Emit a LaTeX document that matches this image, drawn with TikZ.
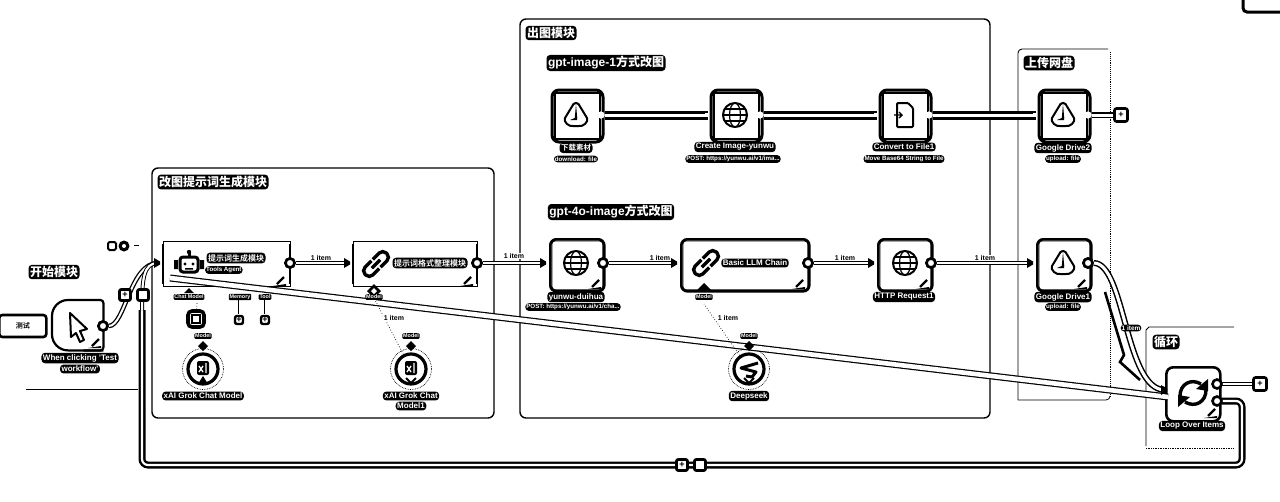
\documentclass[tikz,border=0pt]{standalone}
\usepackage{fontspec}
\setmainfont{Liberation Sans}[BoldFont={Liberation Sans Bold}]
\newfontfamily\cjk{Noto Sans CJK SC Bold}
\usetikzlibrary{arrows.meta,calc}
\tikzset{
 grp/.style={draw=black,line width=1.4pt,rounded corners=6pt,fill=white},
 tag/.style={fill=black,text=white,rounded corners=3.5pt,inner sep=1.5pt,font=\bfseries\fontsize{#1}{#1}\selectfont,align=center},
 tag/.default=8,
 sub/.style={tag=6.2,inner sep=1pt},
 note/.style={fill=white,text=black,font=\bfseries\fontsize{7}{7}\selectfont,inner sep=.6pt},
 portlab/.style={tag=5.4,inner sep=.8pt,rounded corners=1pt},
 nbox/.style={draw=black,line width=2.6pt,rounded corners=6pt,fill=white,inner sep=0pt,anchor=north west,minimum width=54pt,minimum height=52pt},
 thinbox/.style={draw=black,line width=1pt,fill=white,inner sep=0pt,anchor=north west,minimum height=45pt},
 heavy/.style={draw=black,line width=3pt,rounded corners=7pt,fill=white,inner sep=0pt,anchor=north west,minimum width=51pt,minimum height=52pt},
 outport/.style={circle,draw=black,fill=white,line width=2.6pt,minimum size=9pt,inner sep=0pt},
 plusb/.style={draw=black,fill=white,line width=2.6pt,rounded corners=2pt,minimum size=11pt,inner sep=0pt,font=\bfseries\fontsize{9}{9}\selectfont},
 circ/.style={circle,draw=black,line width=3.2pt,fill=white,minimum size=30pt,inner sep=0pt},
 wire/.style={line width=4.6pt,draw=black,postaction={draw=white,line width=2pt}},
 bigwire/.style={line width=9pt,draw=black,postaction={draw=white,line width=3pt}},
 dotw/.style={draw=black,line width=.7pt,dotted},
 ic/.style={draw=black,line width=2pt,fill=none},
}
\newcommand{\globe}[2]{\begin{scope}[shift={(#1,#2)}]
 \draw[ic] (0,0) circle (12);\draw[ic,line width=1.2pt] (0,0) ellipse (5.5 and 12);
 \draw[ic,line width=1.2pt] (-12,0)--(12,0) (-10,-6)--(10,-6) (-10,6)--(10,6);\end{scope}}
\newcommand{\drive}[2]{\begin{scope}[shift={(#1,#2)}]
 \draw[ic,line join=round] (-2.5,-11) .. controls (-1,-12.5) and (1,-12.5) .. (2.5,-11) -- (11,3) .. controls (12,5) and (11,7) .. (9,9) .. controls (7,11) and (5,11) .. (3,11) -- (-3,11) .. controls (-5,11) and (-7,11) .. (-9,9) .. controls (-11,7) and (-12,5) .. (-11,3) -- cycle;
 \fill (0,-11)--(1.2,3)--(-1.2,3)--cycle;
 \fill (-6,5)--(1.2,2)--(1.2,5)--cycle;\end{scope}}
\newcommand{\chain}[2]{\begin{scope}[shift={(#1,#2)},rotate=45]
 \draw[ic,line width=3.4pt,rounded corners=5pt] (-1,-5.5) -- (-15,-5.5) -- (-15,5.5) -- (-1,5.5);
 \draw[ic,line width=3.4pt,rounded corners=5pt] (1,-5.5) -- (15,-5.5) -- (15,5.5) -- (1,5.5);
 \draw[ic,line width=3.4pt] (-6,0)--(6,0);\end{scope}}
\newcommand{\pencil}[2]{\draw[black,line width=2.2pt] (#1-4,#2+4)--(#1+3,#2-3);\fill[black] (#1-8,#2+6) -- (#1+5,#2+6) -- (#1+5,#2+4) -- cycle;}
\newcommand{\xai}[2]{\begin{scope}[shift={(#1,#2)}]
 \fill[black,rounded corners=2pt] (-6,-7) rectangle (6,7);
 \draw[white,line width=1.3pt] (-4,-2)--(0,4) (-4,4)--(0,-2) (3,-5)--(3,5);\end{scope}}
\begin{document}
\begin{tikzpicture}[x=1pt,y=-1pt]
\useasboundingbox (0,0) rectangle (1280,501);
% groups
\draw[grp] (152,168) rectangle (494,418);
\draw[grp] (520,19) rectangle (990,418);
\draw[black,line width=.9pt,rounded corners=4pt] (1018,400) -- (1018,49) -- (1108,49);
\draw[black,line width=.9pt,densely dotted] (1110,52) -- (1110,396);
\draw[black,line width=.8pt,rounded corners=4pt] (1110,396) -- (1110,400) -- (1018,400);
\draw[black,line width=.8pt] (1234,327) -- (1149,327) -- (1146,330) -- (1146,446);
\draw[black,line width=.7pt,densely dotted] (1146,448) -- (1234,448);
\draw[black,line width=.8pt] (26,389) -- (138,389);
\draw[black,line width=3pt,rounded corners=4pt] (1243,-2) -- (1243,12) -- (1282,12);
% group titles
\node[tag=12] (t1) at (213,182) {\cjk 改图提示词生成模块};
\node[tag=12] (t2) at (551,33) {\cjk 出图模块};
\node[tag=12] (t3) at (606,63) {gpt-image-1{\cjk 方式改图}};
\node[tag=12] (t4) at (611,212) {gpt-4o-image{\cjk 方式改图}};
\node[tag=12] (t5) at (1049,63) {\cjk 上传网盘};
\node[tag=12] (t6) at (1166,342) {\cjk 循环};
\node[tag=12] (t7) at (54,272) {\cjk 开始模块};
% nodes
\node[draw=black,line width=2.6pt,rounded corners=3pt,fill=white,minimum width=47pt,minimum height=22pt,anchor=west,font=\fontsize{7}{7}\selectfont] (sticky) at (-2,326) {\cjk 测试};
\node[minimum width=51pt,minimum height=50pt,inner sep=0pt,anchor=north west] (trig) at (52,300) {};
\draw[black,line width=2.2pt,fill=white,rounded corners=16pt] (trig.south east) -- (trig.south west) -- (trig.north west) -- ([xshift=20pt]trig.north west);
\draw[black,line width=2.2pt,rounded corners=3pt] ([xshift=20pt]trig.north west) -- (trig.north east) -- (trig.south east) -- ([xshift=-20pt]trig.south east);
\draw[ic,line join=round] (70,313)--(87,329)--(80,331)--(84,340)--(80,342)--(76,333)--(71,337)--cycle;
\node[thinbox,minimum width=127pt] (agent) at (163,241) {};
\node[thinbox,minimum width=124pt] (chainA) at (353,241) {};
\draw[black,line width=2pt] (163,244)--(163,284) (290,244)--(290,284) (353,244)--(353,284) (477,244)--(477,284);
\node[nbox] (duihua) at (549,238) {};
\node[nbox,minimum width=128pt] (llm) at (680,238) {};
\node[nbox] (http) at (877,238) {};
\node[nbox] (gd1) at (1036,238) {};
\foreach \n in {duihua,llm,http,gd1}
 \draw[black,line width=.7pt,rounded corners=3pt] ($(\n.north west)+(3,3)$) rectangle ($(\n.south east)+(-3,-3)$);
\node[heavy] (dl) at (550.5,88.5) {};
\node[heavy] (create) at (709.5,88.5) {};
\node[heavy] (conv) at (878.5,88.5) {};
\node[heavy] (gd2) at (1037.5,88.5) {};
\foreach \n in {dl,create,conv,gd2}
 \draw[black,line width=2.4pt] ($(\n.north west)+(4.5,4.5)$) rectangle ($(\n.south east)+(-4.5,-4.5)$);
\node[nbox,minimum height=54pt,rounded corners=7pt] (loop) at (1165,366) {};
\foreach \x/\n in {203/grok1,411/grok2,749/deep} {
 \draw[black,line width=.7pt,densely dotted] (\x,369) circle (20.5);
 \node[circ] (\n) at (\x,369) {};
}
\node[draw=black,line width=3.6pt,rounded corners=4pt,fill=white,minimum size=16pt,inner sep=0pt] (parser) at (196,319) {};
\draw[black,line width=1.5pt] (192,315) rectangle (200,323);
% ports
\node[outport] (otrig) at (103,326) {};
\node[outport] (oagent) at (290,263) {};
\node[outport] (ochain) at (477,263) {};
\node[outport] (oduihua) at (603,263) {};
\node[outport] (ollm) at (808,263) {};
\node[outport] (ohttp) at (931,263) {};
\node[outport] (ogd1) at (1088,263) {};
\node[outport,minimum size=7pt,line width=0pt,draw=none] (odl) at (601,115) {};
\node[outport,minimum size=7pt,line width=0pt,draw=none] (ocreate) at (760,115) {};
\node[outport,minimum size=7pt,line width=0pt,draw=none] (oconv) at (929,115) {};
\node[outport,minimum size=7pt,line width=0pt,draw=none] (ogd2) at (1088,115) {};
\node[outport,minimum size=7pt] (oldone) at (1217,384) {};
\node[outport,minimum size=7pt] (olloop) at (1217,401) {};
\coordinate (iagent) at (158,263);
\coordinate (ichain) at (348,263);
\coordinate (iduihua) at (544,263);
\coordinate (illm) at (675,263);
\coordinate (ihttp) at (872,263);
\coordinate (igd1) at (1031,263);
\coordinate (idl) at (549,115);
\coordinate (icreate) at (708,115);
\coordinate (iconv) at (877,115);
\coordinate (igd2) at (1036,115);
\coordinate (iloop) at (1165,390);
\coordinate (diagA) at (170,278);
\coordinate (diagB) at (1168,397);
% plus buttons
\node[plusb] (p1) at (125,295) {+};
\node[plusb] (p2) at (143,295) {};
\node[plusb] (p3) at (682,465) {+};
\node[plusb] (p4) at (700,465) {};
\node[plusb,minimum size=13pt] (p5) at (1121,115) {+};
\node[plusb,minimum size=13pt] (p6) at (1260,384) {+};
\node[plusb,minimum size=8pt,line width=2.4pt] (p7) at (239,320) {+};
\node[plusb,minimum size=8pt,line width=2.4pt] (p8) at (265,320) {+};
% connectors
\draw[bigwire] (odl) -- (icreate);
\draw[bigwire] (ocreate) -- (iconv);
\draw[bigwire] (oconv) -- (igd2);
\draw[bigwire,line width=6pt,postaction={draw=white,line width=2pt}] (ogd2) -- (p5);
\draw[wire] (oagent) -- (ichain);
\draw[wire] (ochain) -- (iduihua);
\draw[wire] (oduihua) -- (illm);
\draw[wire] (ollm) -- (ihttp);
\draw[wire] (ohttp) -- (igd1);
\draw[wire] (otrig) .. controls (125,326) and (130,263) .. (iagent);
\draw[wire] (oldone) -- (p6);
\draw[bigwire,line width=6pt,postaction={draw=white,line width=2pt}] (ogd1) .. controls (1125,263) and (1125,390) .. (iloop);
\draw[black,line width=2.6pt] (1105,292) -- (1124,355) -- (1120,362) -- (1140,380);
\draw[draw=black,line width=7pt,postaction={draw=white,line width=4.6pt}] (diagA) -- (diagB);
\draw[draw=black,line width=7pt,rounded corners=6pt,postaction={draw=white,line width=2.2pt}] (olloop) -- (1242,401) -- (1242,465) -- (142,465) -- (142,310);
\draw[wire,line width=4pt,postaction={draw=white,line width=1.6pt}] (142,310) .. controls (142,280) and (143,263) .. (iagent);
% sockets
\foreach \c in {iagent,ichain,iduihua,illm,ihttp,igd1,iloop}
  \fill[black] ($(\c)+(-4,-5)$) -- ($(\c)+(2,-1.5)$) -- ($(\c)+(2,1.5)$) -- ($(\c)+(-4,5)$) -- cycle;
\foreach \c in {icreate,iconv,igd2,idl}
  \fill[white] ($(\c)+(-3,-2)$) rectangle ($(\c)+(1,2)$);
\foreach \c in {otrig,oagent,ochain,oduihua,ollm,ohttp,ogd1,oldone,olloop}
  \node[outport] at (\c) {};
\foreach \c in {odl,ocreate,oconv,ogd2}
  \fill[white] (\c) circle (3.5);
% redraw buttons on top
\node[plusb] at (p1) {+};\node[plusb] at (p2) {};\node[plusb] at (p3) {+};\node[plusb] at (p4) {};
% dotted sub links
\draw[dotw] (parser) -- (197,303);
\draw[dotw] (grok2) -- (374,298);
\draw[dotw] (deep) -- (704,304);
\draw[black,line width=2.4pt] (239,300) -- (239,314) (265,300) -- (265,314);
\draw[white,line width=.7pt] (239,300) -- (239,314) (265,300) -- (265,314);
\fill[black] (189,288) -- (194,293) -- (184,293) -- cycle;
\fill[black] (374,284) -- (381,291) -- (374,298) -- (367,291) -- cycle;
\fill[white] (374,288) -- (377,291) -- (374,294) -- (371,291) -- cycle;
\fill[black] (704,283) -- (711,290) -- (697,290) -- cycle;
\fill[black] (203,341) -- (208,346) -- (203,351) -- (198,346) -- cycle;
\fill[black] (411,341) -- (416,346) -- (411,351) -- (406,346) -- cycle;
\fill[black] (749,341) -- (754,346) -- (749,351) -- (744,346) -- cycle;
% icons
\chain{376}{264}
\chain{706}{263}
\globe{576}{263}
\globe{905}{263}
\globe{735}{115}
\drive{576}{115}
\drive{1063}{115}
\drive{1063}{263}
\begin{scope}[shift={(904,115)}]
 \draw[ic,rounded corners=1pt] (-7,-12)--(4,-12)--(9,-7)--(9,12)--(-7,12)--cycle;
 \draw[ic,line width=1.4pt] (-10,0)--(-2,0) (-5,-3)--(-2,0)--(-5,3);
\end{scope}
\begin{scope}[shift={(189,264)}]
 \draw[ic,line width=3pt,rounded corners=3pt] (-9,-7) rectangle (9,8);
 \fill[black] (-11,-4) rectangle (-15,5) (11,-4) rectangle (15,5);
 \fill[black] (-1.5,-12) rectangle (1.5,-7);\fill (0,-12) circle (2.2);
 \fill (-4,0) circle (1.6) (4,0) circle (1.6) (-4,4) rectangle (4,5.5);
\end{scope}
\begin{scope}[shift={(1193,393)}]
 \draw[black,line width=3.4pt] (-13,3) .. controls (-13,-9) and (-2,-15) .. (8,-9);
 \draw[black,line width=3.4pt] (13,-3) .. controls (13,9) and (2,15) .. (-8,9);
 \fill (15,-14)--(15,-2)--(3,-4)--cycle;
 \fill (-15,14)--(-15,2)--(-3,4)--cycle;
\end{scope}
\begin{scope}[shift={(749,369)}]
 \draw[black,line width=3pt,line join=round] (9,-6)--(-8,-1)--(7,3)--(3,8)--(-3,7);
\end{scope}
\xai{203}{368}
\xai{411}{368}
\fill[black] (203,376) -- (208,384) -- (198,384) -- cycle;
\draw[black,line width=1.8pt] (406,378)--(411,383)--(416,378);
\draw[black,line width=1.8pt] (744,378)--(749,383)--(754,378);
\pencil{281}{280}\pencil{468}{280}\pencil{596}{283}\pencil{800}{283}\pencil{924}{283}\pencil{1082}{283}\pencil{1212}{412}\pencil{96}{342}
% node texts
\node[tag,font=\cjk\fontsize{8}{8}\selectfont] (lagent) at (236,258) {提示词生成模块};
\node[sub,anchor=west] (lagent2) at (205,270) {Tools Agent};
\node[tag,font=\cjk\fontsize{8}{8}\selectfont] (lchain) at (430,263) {提示词格式整理模块};
\node[tag] (lllm) at (755,263) {Basic LLM Chain};
\node[tag] (lduihua) at (576,297) {yunwu-duihua};
\node[sub] (lduihua2) at (573,307) {POST: https://yunwu.ai/v1/cha...};
\node[tag] (lhttp) at (904,297) {HTTP Request1};
\node[tag] (lgd1) at (1063,297) {Google Drive1};
\node[sub] (lgd1b) at (1063,307) {upload: file};
\node[tag,font=\cjk\fontsize{7.5}{7.5}\selectfont] (ldl) at (576,148) {下载素材};
\node[sub] (ldlb) at (576,159) {download: file};
\node[tag] (lcreate) at (735,147) {Create Image-yunwu};
\node[sub] (lcreateb) at (733,159) {POST: https://yunwu.ai/v1/ima...};
\node[tag] (lconv) at (904,147) {Convert to File1};
\node[sub] (lconvb) at (904,159) {Move Base64 String to File};
\node[tag] (lgd2) at (1063,148) {Google Drive2};
\node[sub] (lgd2b) at (1063,159) {upload: file};
\node[tag] (lloop) at (1192,426) {Loop Over Items};
\node[tag] (lgrok1) at (203,396) {xAI Grok Chat Model};
\node[tag] (lgrok2a) at (411,396) {xAI Grok Chat};
\node[tag] (lgrok2b) at (411,406) {Model1};
\node[tag] (ldeep) at (749,396) {Deepseek};
\node[tag] (ltrig1) at (80,358) {When clicking 'Test};
\node[tag] (ltrig2) at (80,369) {workflow'};
% sub labels
\node[portlab] at (189,297) {Chat Model};
\node[portlab] at (240,297) {Memory};
\node[portlab] at (265,297) {Tool};
\node[portlab] at (374,297) {Model};
\node[portlab] at (704,297) {Model};
\node[portlab] at (203,336) {Model};
\node[portlab] at (411,336) {Model};
\node[portlab] at (749,336) {Model};
% item labels
\foreach \x/\y in {321/258,514/256,660/258,845/258,985/258,394/318,728/318}
 \node[note] at (\x,\y) {1 item};
\node[tag=6.5,inner sep=1pt] at (1131,328) {1 item};
% top-left marks
\draw[black,line width=2pt,rounded corners=1.5pt] (108,242) rectangle (116,250);
\fill[black] (124,246) circle (5.5);\fill[white] (124,246) circle (2);
\draw[black,line width=.7pt] (134,245)--(139,245);
\end{tikzpicture}
\end{document}
